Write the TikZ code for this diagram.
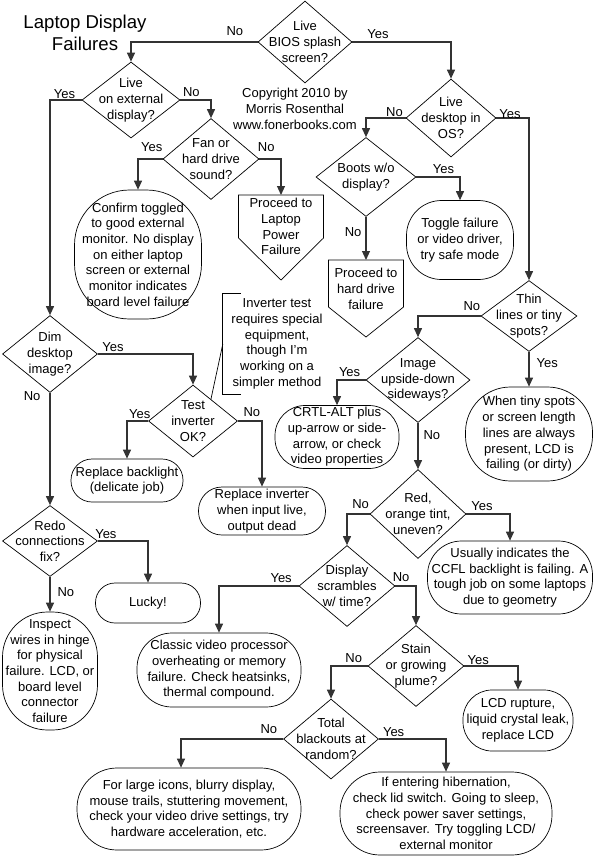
\documentclass[tikz,border=0pt]{standalone}
\usepackage{fontspec}
\setmainfont{Liberation Sans}
\usetikzlibrary{shapes.geometric, arrows.meta, calc}

\begin{document}
\begin{tikzpicture}[
    x=1pt, y=-1pt,% grid in pixels, y runs down
    font=\fontsize{13}{15.7}\selectfont,
       dec/.style = {diamond, draw, line width=0.7pt, inner sep=-12pt, align=center},% decisions
      term/.style = {draw, line width=0.7pt, rounded corners=#1, inner sep=0pt, align=center},% end boxes
      term/.default = 20pt,
       arr/.style = {draw=black!80, line width=1.1pt, -{Triangle[length=9pt,width=8pt]}},
       lbl/.style = {inner sep=1pt}
    ]
    \useasboundingbox (0,0) rectangle (596,857);
    % title and copyright
    \node (title) [align=center, font=\fontsize{18.6}{22.5}\selectfont] at (85,33) {Laptop Display\\Failures};
    \node (copy) [align=center] at (295,109) {Copyright 2010 by\\Morris Rosenthal\\www.fonerbooks.com};

    % decisions
    \node (d1) [dec, minimum width=94pt, minimum height=82pt] at (305,42) {Live\\BIOS splash\\screen?};
    \node (d2) [dec, minimum width=98pt, minimum height=76pt] at (131,100) {Live\\on external\\display?};
    \node (d3) [dec, minimum width=90pt, minimum height=78pt] at (451,118) {Live\\desktop in\\OS?};
    \node (d4) [dec, minimum width=95pt, minimum height=77pt] at (50,354) {Dim\\desktop\\image?};
    \node (d5) [dec, minimum width=96pt, minimum height=81pt] at (211,159) {Fan or\\hard drive\\sound?};
    \node (d6) [dec, minimum width=100pt, minimum height=79pt] at (366,177) {Boots w/o\\display?};
    \node (d7) [dec, minimum width=89pt, minimum height=72pt] at (193,421) {Test\\inverter\\OK?};
    \node (d8) [dec, minimum width=96pt, minimum height=71pt] at (529,316) {Thin\\lines or tiny\\spots?};
    \node (d9) [dec, minimum width=95pt, minimum height=71pt] at (50,541) {Redo\\connections\\fix?};
    \node (d10) [dec, minimum width=104pt, minimum height=85pt] at (418,380) {Image\\upside-down\\sideways?};
    \node (d11) [dec, minimum width=96pt, minimum height=89pt] at (418,514) {Red,\\orange tint,\\uneven?};
    \node (d12) [dec, minimum width=96pt, minimum height=81pt] at (347,586) {Display\\scrambles\\w/ time?};
    \node (d13) [dec, minimum width=96pt, minimum height=81pt] at (416,666) {Stain\\or growing\\plume?};
    \node (d14) [dec, minimum width=95pt, minimum height=80pt] at (331,739) {Total\\blackouts at\\random?};

    % outcomes
    \node (b1) [term=55pt, minimum width=127pt, minimum height=129pt] at (138,254.5) {Confirm toggled\\to good external\\monitor. No display\\on either laptop\\screen or external\\monitor indicates\\board level failure};
    \node (b2) [term=35pt, minimum width=107pt, minimum height=79pt] at (460,240) {Toggle failure\\or video driver,\\try safe mode};
    \node (b3) [term=45pt, minimum width=127pt, minimum height=94pt] at (529,434) {When tiny spots\\or screen length\\lines are always\\present, LCD is\\failing (or dirty)};
    \node (b4) [term=30pt, minimum width=124pt, minimum height=63pt] at (337,437) {CRTL-ALT plus\\up-arrow or side-\\arrow, or check\\video properties};
    \node (b5) [term=21pt, minimum width=112pt, minimum height=43pt] at (127,480.5) {Replace backlight\\(delicate job)};
    \node (b6) [term=23.5pt, minimum width=127pt, minimum height=48pt] at (262,511) {Replace inverter\\when input live,\\output dead};
    \node (b7) [term=19.5pt, minimum width=105pt, minimum height=40pt] at (148,603) {Lucky!};
    \node (b8) [term=45pt, minimum width=95pt, minimum height=118pt] at (50,671) {Inspect\\wires in hinge\\for physical\\failure. LCD, or\\board level\\connector\\failure};
    \node (b9) [term=34pt, minimum width=165pt, minimum height=73pt] at (510,577.5) {Usually indicates the\\CCFL backlight is failing. A\\tough job on some laptops\\due to geometry};
    \node (b10) [term=35pt, minimum width=164pt, minimum height=74pt] at (219,670) {Classic video processor\\overheating or memory\\failure. Check heatsinks,\\thermal compound.};
    \node (b11) [term=29pt, minimum width=110pt, minimum height=61pt] at (518,720.5) {LCD rupture,\\liquid crystal leak,\\replace LCD};
    \node (b12) [term=40pt, minimum width=224pt, minimum height=82pt] at (189,809) {For large icons, blurry display,\\mouse trails, stuttering movement,\\check your video drive settings, try\\hardware acceleration, etc.};
    \node (b13) [term=40pt, minimum width=212pt, minimum height=83pt] at (446,813.5) {If entering hibernation,\\check lid switch. Going to sleep,\\check power saver settings,\\screensaver. Try toggling LCD/\\external monitor};

    % off-page connectors
    \coordinate (p1top) at (281,195);
    \draw[line width=0.7pt] (p1top) ++(-42.5,0) -- ++(85,0) -- ++(0,43) -- ++(-42.5,42) -- ++(-42.5,-42) -- cycle;
    \node (p1) [align=center] at (281,226.5) {Proceed to\\Laptop\\Power\\Failure};
    \coordinate (p2top) at (366,260);
    \draw[line width=0.7pt] (p2top) ++(-37.5,0) -- ++(75,0) -- ++(0,47) -- ++(-37.5,30) -- ++(-37.5,-30) -- cycle;
    \node (p2) [align=center] at (366,289) {Proceed to\\hard drive\\failure};

    % inverter note
    \node (note) [align=center, inner sep=0pt, minimum width=108pt, minimum height=100pt] at (277,344) {Inverter test\\requires special\\equipment,\\though I'm\\working on a\\simpler method};
    \draw[line width=0.7pt] ([xshift=18pt]note.north west) -- (note.north west) -- (note.south west) -- ([xshift=18pt]note.south west);
    \draw[line width=0.7pt] (note.west) -- ($(d7.north)!0.4!(d7.east)$);

    % connectors
    \draw[arr] (d1.west) -| (d2.north) node[lbl, pos=0.09, above=5pt] {No};
    \draw[arr] (d1.east) -| (d3.north) node[lbl, pos=0.13, above=2pt] {Yes};
    \draw[arr] (d2.west) -| (d4.north) node[lbl, pos=0.27, above=0pt] {Yes};
    \draw[arr] (d2.east) -| (d5.north) node[lbl, pos=0.18, above=2pt] {No};
    \draw[arr] (d5.west) -| (b1.north) node[lbl, pos=0.22, above=5.5pt] {Yes};
    \draw[arr] (d5.east) -| (p1top) node[lbl, pos=0.16, above=6pt] {No};
    \draw[arr] (d3.west) -| (d6.north) node[lbl, pos=0.14, above=0pt] {No};
    \draw[arr] (d3.east) -| (d8.north) node[lbl, pos=0.21, above=-1.8pt] {Yes};
    \draw[arr] (d6.east) -| (b2.north) node[lbl, pos=0.31, above=1.6pt] {Yes};
    \draw[arr] (d6.south) -- (p2top) node[lbl, pos=0.35, left=3pt] {No};
    \draw[arr] (d4.east) -| (d7.north) node[lbl, pos=0.08, above=0.6pt] {Yes};
    \draw[arr] (d4.south) -- (d9.north) node[lbl, pos=0.03, left=8pt] {No};
    \draw[arr] (d7.west) -| (b5.north) node[lbl, pos=0.2, above=0.6pt] {Yes};
    \draw[arr] (d7.east) -| (b6.north) node[lbl, pos=0.29, above=3pt] {No};
    \draw[arr] (d9.east) -| (b7.north) node[lbl, pos=0.08, above=0.6pt] {Yes};
    \draw[arr] (d9.south) -- (b8.north) node[lbl, pos=0.43, right=6pt] {No};
    \draw[arr] (d8.west) -| (d10.north) node[lbl, pos=0.07, above=4pt] {No};
    \draw[arr] (d8.south) -- (b3.north) node[lbl, pos=0.33, right=6pt] {Yes};
    \draw[arr] (d10.west) -| (b4.north) node[lbl, pos=0.28, above=1.6pt] {Yes};
    \draw[arr] (d10.south) -- (d11.north) node[lbl, pos=0.26, right=4pt] {No};
    \draw[arr] (d11.west) -| (d12.north) node[lbl, pos=0.2, above=4pt] {No};
    \draw[arr] (d11.east) -| (b9.north) node[lbl, pos=0.18, above=1.6pt] {Yes};
    \draw[arr] (d12.west) -| (b10.north) node[lbl, pos=0.11, above=1.6pt] {Yes};
    \draw[arr] (d12.east) -| (d13.north) node[lbl, pos=0.14, above=3pt] {No};
    \draw[arr] (d13.west) -| (d14.north) node[lbl, pos=0.19, above=2pt] {No};
    \draw[arr] (d13.east) -| (b11.north) node[lbl, pos=0.13, above=0pt] {Yes};
    \draw[arr] (d14.west) -| ([xshift=-8pt]b12.north) node[lbl, pos=0.07, above=4pt] {No};
    \draw[arr] (d14.east) -| (b13.north) node[lbl, pos=0.11, above=0.6pt] {Yes};
\end{tikzpicture}
\end{document}
